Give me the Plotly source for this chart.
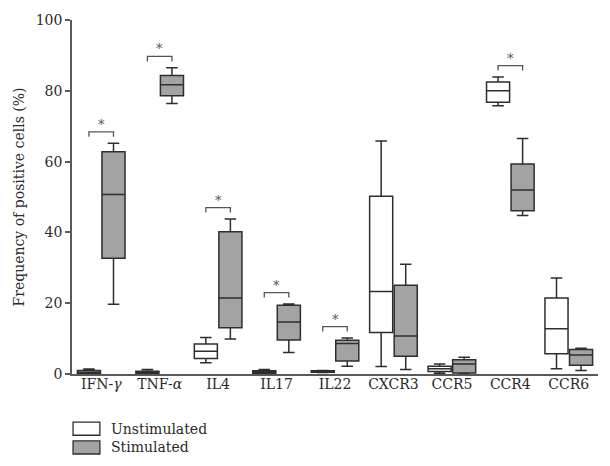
import plotly.graph_objects as go

categories = ["IFN-γ", "TNF-α", "IL4", "IL17", "IL22", "CXCR3", "CCR5", "CCR4", "CCR6"]
tick_labels = ["IFN-<i>γ</i>", "TNF-<i>α</i>", "IL4", "IL17", "IL22", "CXCR3", "CCR5", "CCR4", "CCR6"]

# Unstimulated box statistics
unstim_low = [0.1, 0.1, 3.2, 0.1, 0.4, 2.1, 0.2, 75.8, 1.5]
unstim_q1 = [0.2, 0.1, 4.4, 0.2, 0.5, 11.7, 0.7, 76.8, 5.7]
unstim_med = [0.5, 0.4, 6.4, 0.5, 0.7, 23.3, 1.5, 80.0, 12.8]
unstim_q3 = [1.0, 0.8, 8.5, 0.9, 0.9, 50.2, 2.2, 82.5, 21.5]
unstim_high = [1.4, 1.3, 10.3, 1.3, 1.0, 65.8, 2.85, 83.9, 27.1]

# Stimulated box statistics
stim_low = [19.7, 76.4, 9.9, 6.1, 2.2, 1.3, 0.1, 44.8, 1.0]
stim_q1 = [32.7, 78.6, 13.1, 9.6, 3.7, 5.0, 0.3, 46.1, 2.5]
stim_med = [50.7, 81.7, 21.5, 14.7, 8.6, 10.7, 2.85, 52.0, 5.4]
stim_q3 = [62.8, 84.3, 40.2, 19.4, 9.5, 25.1, 4.0, 59.3, 6.9]
stim_high = [65.2, 86.5, 43.8, 19.8, 10.2, 31.0, 4.7, 66.5, 7.3]

# Categories with significant difference (*)
significant = ["IFN-γ", "TNF-α", "IL4", "IL17", "IL22", "CCR4"]

series_names = ["Unstimulated", "Stimulated"]
y_ticks = [0, 20, 40, 60, 80, 100]

FONT = "DejaVu Serif"
TXT = "#2a2a2a"
LINE = "#2e2e2e"
AXIS = "#5a5a5a"
FILLS = ["white", "#a3a3a3"]
BOXGAP = 0.16
GROUPGAP = 0.06

fig = go.Figure()
stats = [
    (unstim_low, unstim_q1, unstim_med, unstim_q3, unstim_high),
    (stim_low, stim_q1, stim_med, stim_q3, stim_high),
]
for name, fill, (lo, q1, med, q3, hi) in zip(series_names, FILLS, stats):
    fig.add_trace(go.Box(
        name=name, x=categories,
        lowerfence=lo, q1=q1, median=med, q3=q3, upperfence=hi,
        fillcolor=fill, line=dict(color=LINE, width=1.5), boxpoints=False, whiskerwidth=0.5,
        hoverinfo="skip", showlegend=False,
    ))

# significance brackets
off = (1 - BOXGAP) / 4
for cat in significant:
    i = categories.index(cat)
    top = max(unstim_high[i], stim_high[i]) + 3.2
    x0, x1 = i - off, i + off
    fig.add_shape(type="path",
                  path=f"M {x0} {top-1.4} L {x0} {top} L {x1} {top} L {x1} {top-1.4}",
                  line=dict(color="#555555", width=1.3), xref="x", yref="y")
    fig.add_annotation(x=i, y=top, text="*", showarrow=False, yanchor="bottom",
                       font=dict(family=FONT, size=13, color="#555555"), yshift=-2)

# legend drawn below the plot (swatch + label)
for k, (name, fill) in enumerate(zip(series_names, FILLS)):
    y_top = -0.136 - k * 0.053
    fig.add_shape(type="rect", xref="paper", yref="paper",
                  x0=0.002, x1=0.053, y0=y_top - 0.037, y1=y_top,
                  fillcolor=fill, line=dict(color=LINE, width=1.3))
    fig.add_annotation(xref="paper", yref="paper", x=0.07, y=y_top - 0.0185,
                       text=name, showarrow=False, xanchor="left", yanchor="middle",
                       font=dict(family=FONT, size=14, color=TXT))

fig.update_layout(
    width=610, height=466,
    paper_bgcolor="white", plot_bgcolor="white",
    margin=dict(l=72, r=12, t=16, b=92),
    boxmode="group", boxgap=BOXGAP, boxgroupgap=GROUPGAP,
    font=dict(family=FONT, size=14, color=TXT),
    showlegend=False,
    xaxis=dict(
        type="category", categoryorder="array", categoryarray=categories,
        tickvals=categories, ticktext=tick_labels,
        range=[-0.5, len(categories) - 0.5],
        showline=True, linecolor=AXIS, linewidth=1.5,
        ticks="", showgrid=False, zeroline=False,
        ticklabelstandoff=-4,
        tickfont=dict(family=FONT, size=14, color=TXT),
    ),
    yaxis=dict(
        range=[0, 100], tickvals=y_ticks,
        showline=True, linecolor=AXIS, linewidth=1.5,
        ticks="outside", ticklen=5, tickcolor=AXIS, tickwidth=1.5,
        showgrid=False, zeroline=False,
        title=dict(text="Frequency of positive cells (%)", font=dict(family=FONT, size=14, color=TXT), standoff=8),
        tickfont=dict(family=FONT, size=14, color=TXT),
    ),
)

fig.write_html("out.html", config={"displayModeBar": False},
               post_script="document.body.style.margin='0';")
